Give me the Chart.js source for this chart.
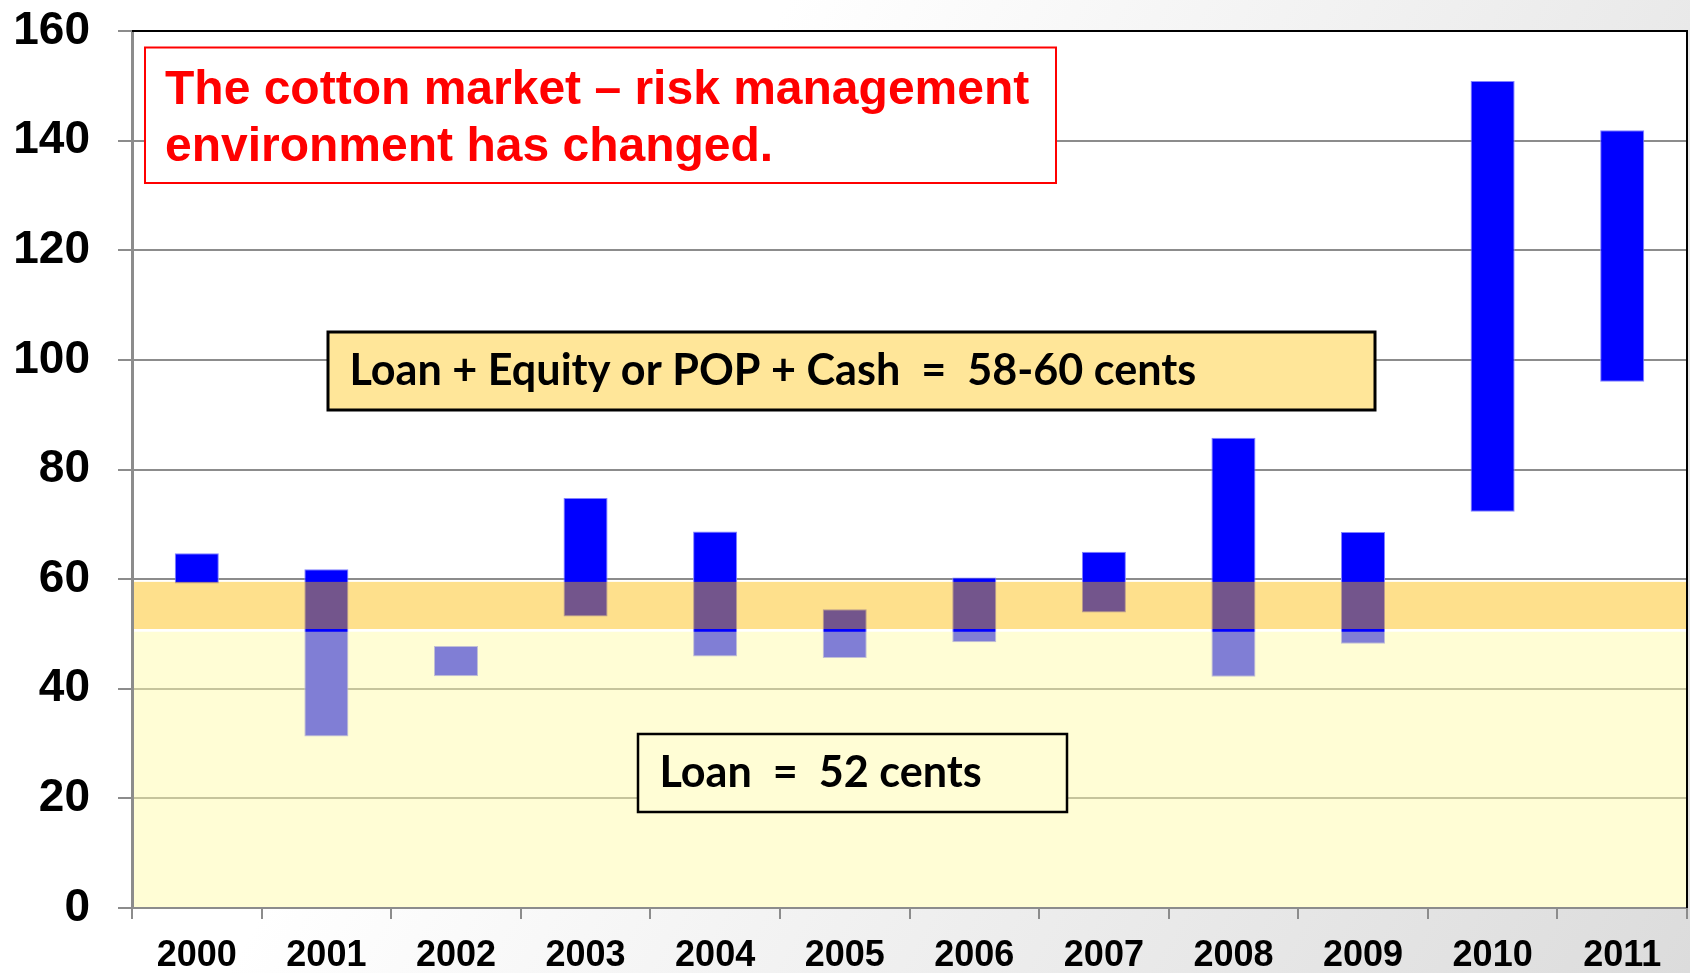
<!DOCTYPE html>
<html>
<head>
<meta charset="utf-8">
<script src="https://cdn.jsdelivr.net/npm/chart.js@4.4.1/dist/chart.umd.min.js"></script>
<style>
  html, body { margin: 0; padding: 0; }
  body {
    width: 1690px; height: 973px; overflow: hidden;
    background: linear-gradient(120deg, #ffffff 0%, #ffffff 35%, #dcdcdc 100%);
  }
  canvas { display: block; }
</style>
</head>
<body>
<canvas id="c" width="1690" height="973"></canvas>
<script>
// ---- data ----
const years = ['2000','2001','2002','2003','2004','2005','2006','2007','2008','2009','2010','2011'];
const lows  = [59.2, 31.3, 42.3, 53.2, 45.9, 45.6, 48.5, 53.9, 42.2, 48.2, 72.3, 96.0];
const highs = [64.7, 61.8, 47.8, 74.8, 68.7, 54.5, 60.3, 65.0, 85.8, 68.6, 150.9, 141.9];
const yTickValues = [0, 20, 40, 60, 80, 100, 120, 140, 160];
const bandLoan = [0, 50.4];
const bandEquity = [50.9, 59.5];
const titleLines = ['The cotton market \u2013 risk management', 'environment has changed.'];
const equityText = 'Loan + Equity or POP + Cash  =  58-60 cents';
const loanText = 'Loan  =  52 cents';

const ranges = years.map((y, i) => [lows[i], highs[i]]);

const plotBg = {
  id: 'plotBg',
  beforeDraw(chart) {
    const { ctx, chartArea: a } = chart;
    ctx.save();
    ctx.fillStyle = '#ffffff';
    ctx.fillRect(a.left, a.top, a.right - a.left, a.bottom - a.top);
    ctx.restore();
  }
};

const bands = {
  id: 'bands',
  afterDatasetsDraw(chart) {
    const { ctx, chartArea: a, scales: { y } } = chart;
    ctx.save();
    const x0 = a.left + 2, w = a.right - x0;
    let t = y.getPixelForValue(bandLoan[1]), b = y.getPixelForValue(bandLoan[0]);
    ctx.fillStyle = 'rgba(255,251,171,0.5)';
    ctx.fillRect(x0, t, w, b - t - 1);
    t = y.getPixelForValue(bandEquity[1]); b = y.getPixelForValue(bandEquity[0]);
    ctx.fillStyle = 'rgba(253,187,2,0.455)';
    ctx.fillRect(x0, t, w, b - t);
    ctx.restore();
  }
};

const frame = {
  id: 'frame',
  afterDraw(chart) {
    const { ctx, chartArea: a } = chart;
    ctx.save();
    // top & right border
    ctx.strokeStyle = '#000000';
    ctx.lineWidth = 2;
    ctx.beginPath();
    ctx.moveTo(a.left, a.top);
    ctx.lineTo(a.right, a.top);
    ctx.lineTo(a.right, a.bottom);
    ctx.stroke();

    // title box
    ctx.fillStyle = '#ffffff';
    ctx.fillRect(145, 47.5, 911, 135.5);
    ctx.strokeStyle = '#ff0000';
    ctx.lineWidth = 2;
    ctx.strokeRect(145, 47.5, 911, 135.5);
    ctx.fillStyle = '#ff0000';
    ctx.font = 'bold 48px "Liberation Sans", Arial, sans-serif';
    ctx.textBaseline = 'alphabetic';
    ctx.textAlign = 'left';
    ctx.fillText(titleLines[0], 165, 104);
    ctx.fillText(titleLines[1], 165, 160.5);

    // equity box
    ctx.font = 'bold 40px Lato, sans-serif';
    const wm = ctx.measureText(equityText).width;
    const fs = 40 * 847 / wm;
    ctx.fillStyle = '#ffe699';
    ctx.fillRect(328, 332, 1047, 78);
    ctx.strokeStyle = '#000000';
    ctx.lineWidth = 3;
    ctx.strokeRect(328, 332, 1047, 78);
    ctx.fillStyle = '#000000';
    ctx.font = 'bold ' + fs.toFixed(2) + 'px Lato, sans-serif';
    ctx.fillText(equityText, 349.5, 385);

    // loan box
    ctx.fillStyle = '#fffdd5';
    ctx.fillRect(638, 734, 429, 78);
    ctx.lineWidth = 2.5;
    ctx.strokeRect(638, 734, 429, 78);
    ctx.fillStyle = '#000000';
    ctx.fillText(loanText, 659.5, 786.5);
    ctx.restore();
  }
};

new Chart(document.getElementById('c'), {
  type: 'bar',
  data: {
    labels: years,
    datasets: [{
      data: ranges,
      backgroundColor: '#0000ff',
      borderColor: 'rgba(130,130,255,1)',
      borderWidth: 1,
      borderSkipped: false,
      barPercentage: 0.34,
      categoryPercentage: 1.0
    }]
  },
  options: {
    responsive: false,
    devicePixelRatio: 1,
    animation: false,
    layout: { padding: { top: 31, right: 3, left: 0, bottom: 0 } },
    plugins: { legend: { display: false }, tooltip: { enabled: false }, title: { display: false } },
    scales: {
      y: {
        min: 0, max: 160,
        afterFit(s) { s.width = 132; s.paddingTop = 0; s.paddingBottom = 0; },
        afterBuildTicks(s) { s.ticks = yTickValues.map(v => ({ value: v })); },
        ticks: {
          color: '#000000',
          font: { family: '"Liberation Sans", Arial, sans-serif', size: 46, weight: 'bold' },
          padding: 28
        },
        grid: { color: '#8c8c8c', lineWidth: 2, tickLength: 14 },
        border: { color: '#8c8c8c', width: 3 }
      },
      x: {
        afterFit(s) { s.height = 65; s.paddingLeft = 0; s.paddingRight = 0; },
        offset: true,
        ticks: {
          color: '#000000',
          font: { family: '"Liberation Sans", Arial, sans-serif', size: 36, weight: 'bold' },
          padding: 15,
          maxRotation: 0
        },
        grid: { drawOnChartArea: false, color: '#8c8c8c', lineWidth: 2, tickLength: 11, offset: true },
        border: { color: '#8c8c8c', width: 2 }
      }
    }
  },
  plugins: [plotBg, bands, frame]
});
</script>
</body>
</html>
